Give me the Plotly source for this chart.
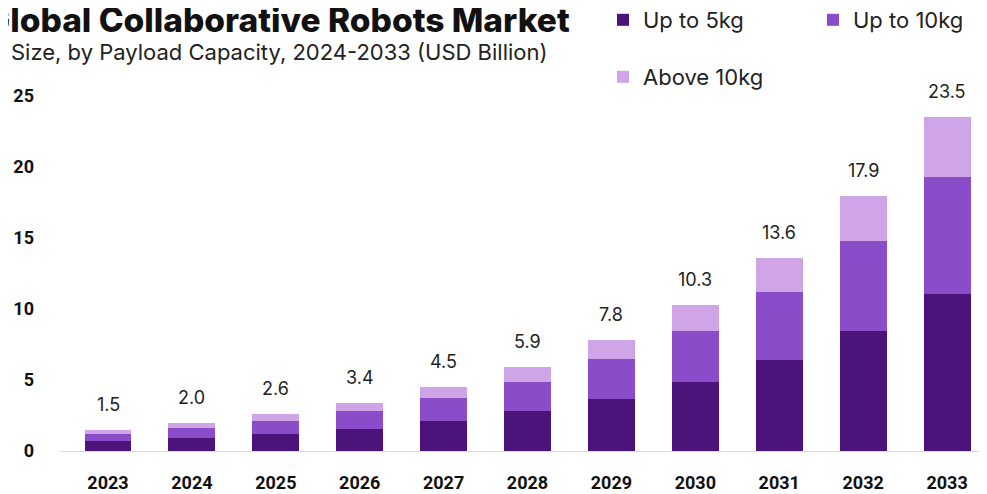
import plotly.graph_objects as go

years = ["2023", "2024", "2025", "2026", "2027", "2028", "2029", "2030", "2031", "2032", "2033"]
up_to_5kg = [0.68, 0.92, 1.22, 1.58, 2.10, 2.80, 3.65, 4.85, 6.40, 8.45, 11.05]
up_to_10kg = [0.52, 0.68, 0.91, 1.22, 1.60, 2.05, 2.80, 3.60, 4.80, 6.30, 8.20]
above_10kg = [0.30, 0.40, 0.47, 0.60, 0.80, 1.05, 1.35, 1.85, 2.40, 3.15, 4.25]
totals = [1.5, 2.0, 2.6, 3.4, 4.5, 5.9, 7.8, 10.3, 13.6, 17.9, 23.5]
y_ticks = [0, 5, 10, 15, 20, 25]

C_DARK = "#4C137A"
C_MID = "#8A4CC8"
C_LIGHT = "#D0A5E8"

fig = go.Figure()
fig.add_trace(go.Bar(x=years, y=up_to_5kg, name="Up to 5kg", marker_color=C_DARK,
                     marker_line_width=0, legend="legend"))
fig.add_trace(go.Bar(x=years, y=up_to_10kg, name="Up to 10kg", marker_color=C_MID,
                     marker_line_width=0, legend="legend"))
fig.add_trace(go.Bar(x=years, y=above_10kg, name="Above 10kg", marker_color=C_LIGHT,
                     marker_line_width=0, legend="legend2"))

for i, t in enumerate(totals):
    fig.add_annotation(x=i, y=t, text=f"{t:.1f}", showarrow=False, yanchor="bottom",
                       yshift=13, font=dict(family="Inter", size=18, color="#222222"))

fig.add_annotation(xref="paper", yref="paper", x=-0.082, y=0.9735, xanchor="left", yanchor="middle",
                   text="Global Collaborative Robots Market", showarrow=False,
                   font=dict(family="Inter", size=33.5, color="#111111", weight=800))
fig.add_annotation(xref="paper", yref="paper", x=-0.0539, y=0.9007, xanchor="left", yanchor="middle",
                   text="Size, by Payload Capacity, 2024-2033 (USD Billion)", showarrow=False,
                   font=dict(family="Inter", size=22, color="#222222"))

fig.update_layout(
    width=979, height=486,
    margin=dict(l=51, r=0, t=0, b=43, autoexpand=False),
    barmode="stack", bargap=0.44,
    plot_bgcolor="white", paper_bgcolor="white",
    font=dict(family="Inter", color="#111111"),
    legend=dict(orientation="h", x=0.5862, y=0.9729,
                xanchor="left", yanchor="middle",
                entrywidth=165, entrywidthmode="pixels",
                font=dict(family="Inter", size=22, color="#222222"),
                traceorder="normal", bgcolor="rgba(0,0,0,0)"),
    legend2=dict(orientation="h", x=0.5862, y=0.8442,
                 xanchor="left", yanchor="middle",
                 font=dict(family="Inter", size=22, color="#222222"), bgcolor="rgba(0,0,0,0)"),
    xaxis=dict(type="category", range=[-0.584, 10.476], showgrid=False, showline=True, linecolor="#dddddd",
               linewidth=1, ticks="", ticklabelstandoff=15,
               tickfont=dict(family="Roboto", size=18, color="#111111", weight="bold")),
    yaxis=dict(range=[0, 31.15], tickvals=y_ticks, showgrid=False, zeroline=False, showline=False,
               ticks="", ticklabelstandoff=24,
               tickfont=dict(family="Roboto", size=18, color="#111111", weight="bold")),
)

fig.write_html("out.html")
